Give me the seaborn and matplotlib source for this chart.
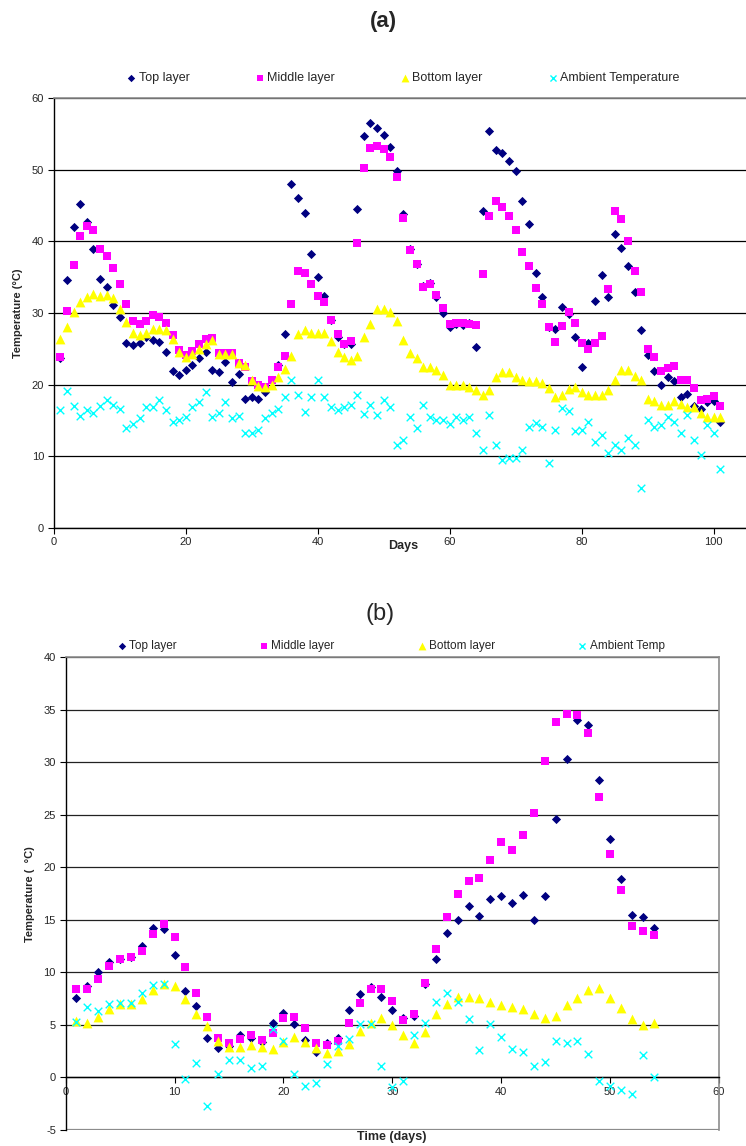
import numpy as np
import pandas as pd
import matplotlib
matplotlib.use("Agg")
import matplotlib.pyplot as plt
import seaborn as sns

# ---------------- data: panel (a) ----------------
days_a = list(range(1, 102))
top_a = [23.7, 34.6, 42.0, 45.3, 42.7, 38.9, 34.8, 33.6, 31.1, 29.5,
         25.8, 25.5, 25.8, 26.7, 26.2, 25.9, 24.6, 21.9, 21.3, 22.1,
         22.8, 23.7, 24.6, 22.1, 21.8, 23.1, 20.3, 21.5, 18.0, 18.2,
         18.0, 19.0, 20.6, 22.7, 27.1, 48.0, 46.1, 44.0, 38.2, 35.0,
         32.4, 29.0, 26.6, 25.6, 25.7, 44.6, 54.8, 56.6, 55.9, 54.9,
         53.2, 49.9, 43.9, 39.0, 36.9, 33.8, 34.2, 32.3, 30.0, 28.1,
         28.5, 28.3, 28.6, 25.3, 44.2, 55.5, 52.8, 52.3, 51.3, 49.8,
         45.6, 42.4, 35.6, 32.2, 28.1, 27.8, 30.9, 29.9, 26.6, 22.4,
         25.8, 31.7, 35.3, 32.2, 41.1, 39.1, 36.6, 32.9, 27.6, 24.1,
         21.9, 20.0, 21.1, 20.5, 18.3, 18.7, 17.0, 16.6, 17.6, 17.7,
         14.8]
mid_a = [23.8, 30.3, 36.7, 40.8, 42.2, 41.6, 38.9, 37.9, 36.3, 34.0,
         31.3, 28.9, 28.4, 28.9, 29.7, 29.4, 28.6, 26.9, 24.8, 24.1,
         24.7, 25.7, 26.4, 26.5, 24.4, 24.4, 24.4, 23.0, 22.4, 20.5,
         19.9, 19.7, 20.6, 22.4, 24.0, 31.2, 35.8, 35.6, 34.1, 32.4,
         31.5, 29.0, 27.1, 25.7, 26.1, 39.8, 50.3, 53.1, 53.3, 52.9,
         51.8, 49.0, 43.3, 38.8, 36.8, 33.7, 34.1, 32.5, 30.7, 28.5,
         28.6, 28.6, 28.4, 28.3, 35.5, 43.5, 45.7, 44.8, 43.5, 41.6,
         38.5, 36.6, 33.5, 31.2, 28.1, 26.0, 28.2, 30.1, 28.6, 25.8,
         25.0, 25.8, 26.8, 33.3, 44.2, 43.2, 40.1, 35.8, 33.0, 25.0,
         23.8, 21.9, 22.3, 22.6, 20.7, 20.7, 19.5, 17.8, 18.0, 18.4,
         17.0]
bot_a = [26.4, 28.0, 30.2, 31.6, 32.2, 32.7, 32.4, 32.5, 32.1, 30.6,
         28.8, 27.2, 26.9, 27.2, 27.8, 27.8, 27.6, 26.4, 24.6, 23.8,
         24.3, 24.9, 25.6, 26.2, 24.3, 24.3, 24.3, 23.0, 22.7, 20.7,
         19.8, 19.7, 19.9, 21.0, 22.2, 24.0, 27.0, 27.6, 27.2, 27.2,
         27.2, 26.1, 24.6, 23.8, 23.4, 24.0, 26.6, 28.5, 30.5, 30.5,
         30.1, 28.9, 26.2, 24.4, 23.7, 22.4, 22.4, 22.0, 21.3, 19.9,
         19.9, 19.9, 19.7, 19.2, 18.6, 19.2, 21.0, 21.8, 21.7, 21.0,
         20.7, 20.5, 20.5, 20.2, 19.5, 18.2, 18.5, 19.4, 19.7, 19.0,
         18.5, 18.6, 18.5, 19.2, 20.6, 22.1, 22.1, 21.2, 20.7, 18.0,
         17.7, 17.2, 17.1, 17.7, 17.3, 16.9, 16.9, 16.0, 15.4, 15.5,
         15.4]
amb_a = [16.4, 19.1, 17.0, 15.6, 16.4, 16.0, 17.0, 17.8, 17.1, 16.6,
         13.9, 14.5, 15.3, 16.8, 16.9, 17.8, 16.4, 14.8, 15.0, 15.5,
         16.8, 17.5, 19.0, 15.4, 16.0, 17.6, 15.3, 15.6, 13.3, 13.3,
         13.7, 15.3, 16.0, 16.6, 18.2, 20.7, 18.6, 16.2, 18.3, 20.6,
         18.2, 16.9, 16.4, 16.9, 17.2, 18.5, 15.9, 17.2, 15.7, 17.9,
         16.8, 11.6, 12.2, 15.4, 13.9, 17.2, 15.4, 15.1, 15.1, 14.5,
         15.4, 15.1, 15.4, 13.3, 10.8, 15.7, 11.6, 9.5, 9.7, 9.8,
         10.9, 14.1, 14.6, 14.1, 9.0, 13.6, 16.7, 16.3, 13.5, 13.6,
         14.8, 12.0, 13.0, 10.4, 11.5, 10.9, 12.5, 11.5, 5.5, 15.1,
         14.1, 14.3, 15.5, 14.8, 13.3, 15.7, 12.2, 10.1, 14.3, 13.3,
         8.2]

# ---------------- data: panel (b) ----------------
days_b = list(range(1, 55))
top_b = [7.6, 8.7, 10.0, 11.0, 11.3, 11.5, 12.5, 14.2, 14.1, 11.7,
         8.2, 6.8, 3.8, 2.8, 3.0, 4.0, 3.8, 3.4, 5.2, 6.1,
         5.1, 3.6, 2.4, 3.3, 3.8, 6.4, 7.9, 8.6, 7.7, 6.4,
         5.7, 5.9, 8.9, 11.3, 13.8, 15.0, 16.3, 15.4, 17.0, 17.3,
         16.6, 17.4, 15.0, 17.3, 24.6, 30.3, 34.0, 33.6, 28.3, 22.7,
         18.9, 15.5, 15.3, 14.2]
mid_b = [8.4, 8.4, 9.4, 10.6, 11.3, 11.5, 12.0, 13.7, 14.6, 13.4,
         10.5, 8.0, 5.8, 3.8, 3.3, 3.7, 4.0, 3.6, 4.2, 5.7,
         5.8, 4.7, 3.3, 3.1, 3.5, 5.2, 7.1, 8.4, 8.4, 7.3,
         5.5, 6.0, 9.0, 12.2, 15.3, 17.5, 18.7, 19.0, 20.7, 22.4,
         21.7, 23.1, 25.2, 30.1, 33.8, 34.6, 34.5, 32.8, 26.7, 21.3,
         17.8, 14.4, 13.9, 13.6]
bot_b = [5.4, 5.2, 5.8, 6.5, 7.0, 7.0, 7.5, 8.3, 8.9, 8.7,
         7.5, 6.0, 4.9, 3.5, 2.9, 2.9, 3.1, 2.9, 2.7, 3.4,
         3.9, 3.4, 2.8, 2.3, 2.5, 3.2, 4.4, 5.2, 5.7, 5.0,
         4.0, 3.3, 4.3, 6.0, 7.0, 7.7, 7.7, 7.6, 7.2, 6.9,
         6.7, 6.5, 6.0, 5.7, 5.9, 6.9, 7.6, 8.3, 8.5, 7.6,
         6.6, 5.6, 5.0, 5.2]
amb_b = [5.3, 6.7, 6.3, 7.0, 7.1, 7.1, 8.0, 8.8, 8.9, 3.2,
         -0.1, 1.4, -2.7, 0.3, 1.7, 1.7, 0.9, 1.1, 4.6, 3.5,
         0.3, -0.8, -0.5, 1.3, 3.0, 3.7, 5.1, 5.1, 1.1, -0.9,
         -0.3, 4.0, 5.2, 7.2, 8.0, 7.2, 5.6, 2.6, 5.1, 3.9,
         2.7, 2.4, 1.1, 1.5, 3.5, 3.3, 3.5, 2.2, -0.3, -0.8,
         -1.2, -1.6, 2.1, 0.0]

labels_a = ["Top layer", "Middle layer", "Bottom layer", "Ambient Temperature"]
labels_b = ["Top layer", "Middle layer", "Bottom layer", "Ambient Temp"]
xticks_a = [0, 20, 40, 60, 80, 100]
yticks_a = [0, 10, 20, 30, 40, 50, 60]
xticks_b = [0, 10, 20, 30, 40, 50, 60]
yticks_b = [-5, 0, 5, 10, 15, 20, 25, 30, 35, 40]

# ---------------- style ----------------
sns.set_theme(style="white")
plt.rcParams["font.family"] = ["Liberation Sans", "DejaVu Sans"]
plt.rcParams["axes.unicode_minus"] = False

W, H = 746, 1146
fig = plt.figure(figsize=(W / 100, H / 100), dpi=100)

styles = [
    dict(marker="D", color="#000080", s=22, linewidth=0),
    dict(marker="s", color="#FF00FF", s=30, linewidth=0),
    dict(marker="^", color="#FFFF00", s=50, linewidth=0),
    dict(marker="x", color="#00FFFF", s=30, linewidth=1.0),
]


def px_axes(left, top, right, bottom):
    return fig.add_axes([left / W, 1 - bottom / H, (right - left) / W, (bottom - top) / H])


def draw_series(ax, days, series, labels):
    for vals, lab, st in zip(series, labels, styles):
        sns.scatterplot(x=days, y=vals, ax=ax, label=lab, zorder=3, **st)


# ---------------- panel (a) ----------------
ax1 = px_axes(53.7, 98.3, 746, 527.7)
draw_series(ax1, days_a, [top_a, mid_a, bot_a, amb_a], labels_a)
ax1.set_xlim(0, (746 - 53.7) / 6.6)
ax1.set_ylim(0, 60)
ax1.set_xticks(xticks_a)
ax1.set_yticks(yticks_a)
ax1.yaxis.grid(True, color="black", linewidth=0.9)
ax1.xaxis.grid(False)
for side in ["left", "bottom"]:
    ax1.spines[side].set_color("black")
    ax1.spines[side].set_linewidth(1.0)
ax1.spines["top"].set_color("#8c8c8c")
ax1.spines["top"].set_linewidth(1.2)
ax1.spines["right"].set_visible(False)
ax1.tick_params(axis="both", which="major", direction="out", length=4, width=0.8,
                color="black", labelsize=8, pad=3, left=True, bottom=True)
ax1.set_ylabel("Temperature (°C)", fontsize=8, fontweight="bold")
ax1.yaxis.set_label_coords((23 - 53.7) / (746 - 53.7), 0.5)
ax1.set_xlabel("Days", fontsize=9, fontweight="bold")
ax1.xaxis.label.set_va("center")
ax1.xaxis.set_label_coords((403 - 53.7) / (746 - 53.7), (527.7 - 546) / (527.7 - 98.3))
h1, l1 = ax1.get_legend_handles_labels()
ax1.get_legend().remove()
fig.legend(h1, l1, loc="center", bbox_to_anchor=(403 / W, 1 - 78 / H), ncol=4,
           frameon=False, fontsize=9, columnspacing=5.2, handletextpad=0.2,
           handlelength=0.8, markerscale=0.8, borderpad=0)
fig.text(383 / W, 1 - 22 / H, "(a)", ha="center", va="center", fontsize=16, fontweight="bold")

# ---------------- panel (b) ----------------
ax2 = px_axes(65.6, 657.3, 719, 1130)
draw_series(ax2, days_b, [top_b, mid_b, bot_b, amb_b], labels_b)
ax2.set_xlim(0, 60)
ax2.set_ylim(-5, 40)
ax2.set_xticks(xticks_b)
ax2.set_yticks(yticks_b)
ax2.yaxis.grid(True, color="#222222", linewidth=0.9)
ax2.xaxis.grid(False)
ax2.spines["left"].set_color("black")
ax2.spines["left"].set_linewidth(1.0)
ax2.spines["bottom"].set_position(("data", 0))
ax2.spines["bottom"].set_color("black")
ax2.spines["bottom"].set_linewidth(1.0)
for side in ["top", "right"]:
    ax2.spines[side].set_color("#8c8c8c")
    ax2.spines[side].set_linewidth(1.2)
ax2.axhline(-5, color="#8c8c8c", linewidth=1.6, zorder=1)
ax2.tick_params(axis="both", which="major", direction="out", length=4, width=0.8,
                color="black", labelsize=8, pad=3, left=True, bottom=True)
ax2.set_ylabel("Temperature (  °C)", fontsize=8, fontweight="bold")
ax2.yaxis.set_label_coords((35 - 65.6) / (719 - 65.6), 0.5)
ax2.set_xlabel("Time (days)", fontsize=9, fontweight="bold")
ax2.xaxis.label.set_va("center")
ax2.xaxis.set_label_coords((392 - 65.6) / (719 - 65.6), (1130 - 1137) / (1130 - 657.3))
h2, l2 = ax2.get_legend_handles_labels()
ax2.get_legend().remove()
fig.legend(h2, l2, loc="center", bbox_to_anchor=(391 / W, 1 - 645.7 / H), ncol=4,
           frameon=False, fontsize=8.5, columnspacing=7.0, handletextpad=0.2,
           handlelength=0.8, markerscale=0.8, borderpad=0)
fig.text(380 / W, 1 - 614 / H, "(b)", ha="center", va="center", fontsize=17)

fig.savefig("out.png", dpi=100, facecolor="white")
